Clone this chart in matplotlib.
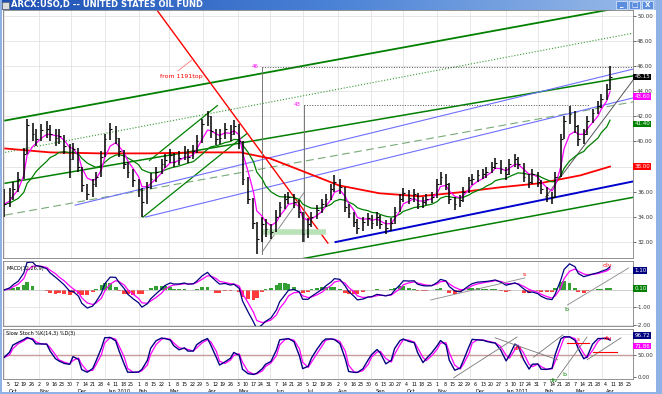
import numpy as np
import pandas as pd
import matplotlib
matplotlib.use("Agg")
import matplotlib.pyplot as plt
import matplotlib.dates as mdates
import matplotlib.transforms as mtrans
from matplotlib.colors import LinearSegmentedColormap
from matplotlib.patches import Rectangle

# USO daily chart (one bar every 3 trading days)
closes = [35.0, 35.6, 36.2, 37.0, 39.0, 41.3, 40.6, 40.2, 40.9, 41.0,
          40.6, 40.3, 40.4, 39.6, 38.6, 39.4, 38.0, 36.5, 35.8, 36.6,
          37.2, 38.8, 40.2, 41.0, 40.3, 39.2, 38.2, 37.6, 36.9, 36.2,
          35.2, 36.4, 37.0, 37.6, 38.2, 38.5, 38.9, 38.4, 38.7, 39.1,
          38.8, 39.2, 40.0, 41.4, 42.0, 40.8, 40.2, 40.3, 41.0, 40.6,
          41.2, 40.0, 37.0, 35.4, 33.5, 32.2, 33.4, 33.0, 32.8, 34.0,
          34.8, 35.4, 35.6, 35.2, 34.4, 32.6, 33.4, 34.0, 34.5, 35.0,
          35.4, 36.2, 36.8, 36.4, 34.8, 34.3, 33.6, 33.1, 33.6, 33.9,
          33.5, 34.0, 33.4, 33.1, 33.5, 34.4, 35.4, 35.9, 35.5, 35.8,
          35.0, 35.2, 35.4, 35.6, 36.6, 37.2, 36.6, 35.4, 35.0, 35.3,
          36.0, 36.9, 37.0, 37.3, 37.4, 37.6, 38.0, 38.3, 37.8, 37.4,
          38.2, 38.6, 38.2, 37.2, 36.8, 37.4, 36.8, 36.2, 35.7, 35.6,
          37.2, 40.2, 41.6, 42.2, 41.2, 40.2, 40.6, 41.6, 42.3, 42.8,
          43.4, 44.2, 45.15]
highs = [36.2, 36.3, 36.8, 37.6, 39.5, 41.8, 41.5, 41.0, 41.4, 41.6,
         41.3, 41.0, 41.0, 40.5, 39.8, 39.9, 39.5, 38.0, 36.6, 37.0,
         37.6, 39.2, 40.6, 41.5, 41.2, 40.3, 39.3, 38.4, 37.8, 37.0,
         36.3, 36.8, 37.5, 38.0, 38.6, 39.0, 39.4, 39.1, 39.2, 39.6,
         39.4, 39.7, 40.5, 41.8, 42.4, 42.0, 41.0, 41.0, 41.5, 41.3,
         41.7, 41.4, 40.0, 37.2, 35.5, 33.6, 34.0, 33.8, 33.4, 34.5,
         35.2, 35.8, 36.0, 35.8, 35.3, 34.4, 33.9, 34.4, 34.9, 35.4,
         35.8, 36.6, 37.3, 37.0, 36.4, 35.0, 34.4, 33.8, 34.0, 34.3,
         34.1, 34.4, 34.1, 33.7, 33.9, 34.8, 35.8, 36.3, 36.1, 36.2,
         35.9, 35.6, 35.8, 36.0, 37.0, 37.6, 37.4, 36.7, 35.6, 35.7,
         36.4, 37.2, 37.4, 37.7, 37.8, 38.0, 38.4, 38.7, 38.5, 38.0,
         38.6, 39.0, 38.8, 38.3, 37.4, 37.8, 37.6, 36.9, 36.4, 36.0,
         37.6, 40.6, 42.0, 42.8, 42.4, 41.3, 41.0, 42.0, 42.6, 43.2,
         43.8, 44.6, 46.0]
lows = [34.0, 34.8, 35.3, 36.0, 37.0, 39.0, 40.0, 39.6, 40.0, 40.3,
        40.0, 39.6, 39.8, 39.0, 37.1, 38.5, 37.6, 36.0, 35.3, 35.6,
        36.4, 37.2, 38.8, 40.1, 39.8, 38.8, 37.8, 37.1, 36.4, 35.6,
        34.0, 35.0, 36.2, 36.8, 37.4, 37.9, 38.3, 38.0, 38.1, 38.5,
        38.3, 38.6, 39.1, 39.9, 41.2, 40.3, 39.7, 39.8, 40.2, 40.0,
        40.5, 39.4, 36.5, 35.0, 33.0, 31.0, 32.0, 32.4, 32.2, 32.8,
        34.0, 34.6, 35.0, 34.7, 33.9, 32.0, 32.3, 33.2, 33.8, 34.3,
        34.8, 35.3, 36.0, 35.8, 34.4, 33.9, 33.2, 32.6, 32.9, 33.3,
        33.0, 33.3, 33.0, 32.6, 32.9, 33.4, 34.4, 35.2, 35.0, 35.2,
        34.6, 34.7, 34.9, 35.1, 35.5, 36.5, 36.1, 35.0, 34.5, 34.8,
        35.2, 35.9, 36.5, 36.8, 37.0, 37.1, 37.5, 37.8, 37.4, 36.9,
        37.3, 38.0, 37.8, 36.8, 36.3, 36.6, 36.4, 35.8, 35.2, 35.0,
        35.5, 37.2, 40.2, 41.4, 40.7, 39.6, 39.8, 40.5, 41.5, 42.2,
        42.7, 43.3, 44.1]

# 200 day moving average (red)
ma200_dates = ["2009-10-02", "2009-11-12", "2009-12-28", "2010-02-11", "2010-03-29",
               "2010-05-05", "2010-06-01", "2010-06-29", "2010-08-03", "2010-09-09",
               "2010-10-16", "2010-11-22", "2010-12-29", "2011-02-03", "2011-03-12",
               "2011-04-08"]
ma200 = [39.44, 39.13, 39.05, 39.05, 39.13, 39.13, 38.65, 37.7, 36.5, 35.87,
         35.63, 35.95, 36.35, 36.67, 37.3, 38.0]

# last values shown in the boxes on the right axis
box_close, box_ema, box_ma50, box_ma200 = 45.15, 43.60, 41.40, 38.00
box_macd, box_hist = 1.10, 0.10
box_k, box_d = 96.72, 71.86

# hand drawn lines on the price panel: (date, price) pairs
upper_green = [("2009-10-02", 41.67), ("2011-04-30", 50.87)]
dotted_green = [("2009-10-02", 39.13), ("2011-04-30", 48.65)]
mid_green = [("2009-10-02", 36.67), ("2011-04-30", 45.24)]
dashed_green = [("2009-10-02", 34.13), ("2011-04-30", 43.17)]
lower_green = [("2010-06-15", 30.40), ("2011-04-30", 35.56)]
small_green_a = [("2010-02-05", 33.97), ("2010-05-11", 40.63)]
small_green_b = [("2010-02-11", 38.49), ("2010-04-14", 42.86)]
blue_1 = [("2009-12-05", 34.92), ("2011-04-30", 45.79)]
blue_2 = [("2010-02-07", 33.97), ("2011-04-30", 43.49)]
blue_thick = [("2010-07-31", 31.98), ("2011-04-30", 36.83)]
red_down = [("2010-02-17", 50.56), ("2010-07-24", 31.9)]
gray_up_1 = [("2010-05-25", 31.2), ("2010-07-02", 35.9)]
gray_up_2 = [("2011-02-08", 35.56), ("2011-04-30", 45.0)]
target_46 = ("2010-05-25", 31.0, 45.95)
target_43 = ("2010-07-02", 32.1, 42.94, "2011-03-21")
support_band = [("2010-05-25", 32.78), ("2010-07-22", 32.78)]

# lines and notes on the MACD panel
macd_gray_1 = [("2010-10-26", -0.57), ("2011-01-20", 0.69)]
macd_gray_2 = [("2011-02-28", -0.86), ("2011-04-25", 1.26)]

# lines and notes on the stochastic panel
sto_gray = [[("2010-11-16", -2), ("2011-01-13", 93)],
            [("2010-12-24", 91), ("2011-02-19", 40)],
            [("2011-01-28", 46), ("2011-02-24", 98)],
            [("2011-02-19", -2), ("2011-03-18", 93)],
            [("2011-03-18", 40), ("2011-04-18", 91)]]
sto_red = [[("2011-02-28", 79), ("2011-03-20", 79)],
           [("2011-03-23", 58), ("2011-04-14", 58)]]

W, H = 662, 394
fig = plt.figure(figsize=(W / 100, H / 100), dpi=100)
fig.patch.set_facecolor("white")


def px_axes(x0, y0, x1, y1):
    return fig.add_axes([x0 / W, 1 - y1 / H, (x1 - x0) / W, (y1 - y0) / H])


def d(s):
    return mdates.date2num(pd.Timestamp(s))


def seg(ax, pts, **kw):
    ax.plot([d(p[0]) for p in pts], [p[1] for p in pts], **kw)


dates = pd.bdate_range("2009-10-01", periods=len(closes), freq="3B")
x = mdates.date2num(dates)
c = pd.Series(closes)
ema10 = c.ewm(span=4, adjust=False).mean()
ma50 = c.ewm(span=14, adjust=False).mean()
macd = c.ewm(span=4, adjust=False).mean() - c.ewm(span=9, adjust=False).mean()
signal = macd.ewm(span=3, adjust=False).mean()
hist = macd - signal
hh = pd.Series(highs).rolling(5, min_periods=1).max()
ll = pd.Series(lows).rolling(5, min_periods=1).min()
k = (100 * (c - ll) / (hh - ll)).rolling(2, min_periods=1).mean()
dline = k.rolling(2, min_periods=1).mean()

xmin, xmax = d("2009-09-30"), d("2011-04-29")
month_starts = mdates.date2num(pd.date_range("2009-10-01", "2011-04-30", freq="BMS"))

axP = px_axes(3, 10, 633, 258)
axM = px_axes(3, 261, 633, 326)
axS = px_axes(3, 329, 633, 379)
for ax in (axP, axM, axS):
    ax.set_xlim(xmin, xmax)
    ax.set_xticks([])
    ax.yaxis.tick_right()
    ax.tick_params(axis="y", labelsize=4, length=2, width=0.5, pad=1, colors="#333333")
    for sp in ax.spines.values():
        sp.set_color("#808080")
        sp.set_linewidth(0.6)
    for m in month_starts:
        ax.axvline(m, color="#dddddd", lw=0.5, zorder=0)


def value_box(ax, y, txt, fc, tc="white"):
    ax.text(1.002, y, txt, transform=ax.get_yaxis_transform(), fontsize=4, color=tc,
            va="center", ha="left", zorder=10, clip_on=False,
            bbox=dict(boxstyle="square,pad=0.15", fc=fc, ec="none"))


# price panel (the 38 label sits under the red box)
axP.set_ylim(30.71, 50.48)
price_ticks = [32, 34, 36, 40, 42, 44, 46, 48, 50]
axP.set_yticks(price_ticks)
axP.set_yticklabels([f"{v:.2f}" for v in price_ticks])
for v in np.arange(32, 51, 2):
    axP.axhline(v, color="#dddddd", lw=0.5, zorder=0)

seg(axP, upper_green, color="#008000", lw=1.3)
seg(axP, dotted_green, color="#339933", lw=0.8, ls=":")
seg(axP, mid_green, color="#008000", lw=1.1)
seg(axP, dashed_green, color="#77aa77", lw=0.8, dashes=(7, 4))
seg(axP, lower_green, color="#008000", lw=1.1)
seg(axP, small_green_a, color="#008000", lw=0.9)
seg(axP, small_green_b, color="#008000", lw=0.9)
seg(axP, blue_1, color="#6f6fff", lw=0.8)
seg(axP, blue_2, color="#6f6fff", lw=0.8)
seg(axP, blue_thick, color="#0000cc", lw=1.4)
seg(axP, red_down, color="#ff0000", lw=1.0)
seg(axP, gray_up_1, color="#888888", lw=0.7)
seg(axP, gray_up_2, color="#555555", lw=0.7)
seg(axP, support_band, color="#b9e2b9", lw=4, solid_capstyle="butt")

t46 = d(target_46[0])
axP.plot([t46, t46], [target_46[1], target_46[2]], color="#777777", lw=0.7)
axP.plot([t46, xmax], [target_46[2]] * 2, color="#555555", lw=0.7, ls=":")
axP.text(t46 - 3, target_46[2], "46", color="#ff00ff", fontsize=4, ha="right", va="center")
t43 = d(target_43[0])
axP.plot([t43, t43], [target_43[1], target_43[2]], color="#777777", lw=0.7)
axP.plot([t43, d(target_43[3])], [target_43[2]] * 2, color="#555555", lw=0.7, ls=":")
axP.text(t43 - 3, target_43[2], "43", color="#ff00ff", fontsize=4, ha="right", va="center")
axP.text(d("2010-02-21"), 45.16, "from 1191top", color="#ff0000", fontsize=4.5,
         ha="left", va="center")
seg(axP, [("2010-03-09", 45.63), ("2010-03-23", 46.59)], color="#ff6666", lw=0.5)

axP.plot(mdates.date2num(pd.to_datetime(ma200_dates)), ma200, color="#ff0000", lw=1.3)
axP.plot(x, ma50, color="#008000", lw=0.9)
axP.plot(x, ema10, color="#ff00ff", lw=0.9)
axP.vlines(x, lows, highs, color="black", lw=1.1)
axP.hlines(closes, x, x + 1.6, color="black", lw=0.8)

value_box(axP, box_close, f"{box_close:.2f}", "black")
value_box(axP, box_ema, f"{box_ema:.2f}", "#ff00ff")
value_box(axP, box_ma50, f"{box_ma50:.2f}", "#008000")
value_box(axP, box_ma200, f"{box_ma200:.2f}", "#ff0000")

# MACD panel (0 and 1 labels are covered by the value boxes)
axM.set_ylim(-2.06, 1.66)
axM.set_yticks([-2, -1])
axM.set_yticklabels(["-2.00", "-1.00"])
for v in (-2, -1, 1):
    axM.axhline(v, color="#dddddd", lw=0.5, zorder=0)
axM.bar(x, hist.clip(lower=0), width=3.5, color="#33a033", lw=0)
axM.bar(x, hist.clip(upper=0), width=3.5, color="#ff3b3b", lw=0)
axM.axhline(0, color="#aaaaaa", lw=0.4)
axM.plot(x, signal, color="#ff00ff", lw=0.9)
axM.plot(x, macd, color="#000080", lw=0.9)
seg(axM, macd_gray_1, color="#888888", lw=0.6)
seg(axM, macd_gray_2, color="#888888", lw=0.6)
axM.text(d("2011-01-20"), 0.72, "s", color="#ff0000", fontsize=4.5, ha="center", va="bottom")
axM.text(d("2011-02-27"), -0.95, "b", color="#008000", fontsize=4.5, ha="center", va="top")
axM.text(d("2011-04-06"), 1.25, "div", color="#ff0000", fontsize=4.5, ha="center", va="bottom")
axM.text(0.005, 0.93, "MACD(12,26,9)", transform=axM.transAxes, fontsize=3.6,
         ha="left", va="top")
value_box(axM, box_macd, f"{box_macd:.2f}", "#000080")
value_box(axM, box_hist, f"{box_hist:.2f}", "#008000")

# stochastic panel
axS.set_ylim(-4.7, 111.6)
axS.set_yticks([0, 50])
axS.set_yticklabels(["0.00", "50.00"])
axS.axhline(50, color="#c89a9a", lw=1.0, zorder=1)
axS.axhline(100, color="#dddddd", lw=0.5, zorder=0)
axS.plot(x, dline, color="#ff00ff", lw=0.9)
axS.plot(x, k, color="#000080", lw=1.0)
for pts in sto_gray:
    seg(axS, pts, color="#777777", lw=0.6)
for pts in sto_red:
    seg(axS, pts, color="#ff0000", lw=0.8)
axS.text(d("2011-01-14"), 62, "div", color="#ff0000", fontsize=4, ha="center")
axS.text(d("2011-01-17"), 45, "s", color="#ff0000", fontsize=4, ha="center")
axS.text(d("2011-03-10"), 84, "s", color="#ff0000", fontsize=4, ha="center")
axS.text(d("2011-04-06"), 86, "div", color="#ff0000", fontsize=4, ha="center")
axS.text(d("2011-02-16"), -3, "div", color="#008000", fontsize=4, ha="center", va="top")
axS.text(d("2011-02-25"), 2, "b", color="#008000", fontsize=4.5, ha="center")
axS.text(0.005, 0.95, "Slow Stoch %K(14,3) %D(3)", transform=axS.transAxes, fontsize=3.6,
         ha="left", va="top")
value_box(axS, box_k, f"{box_k:.2f}", "#000080")
value_box(axS, box_d, f"{box_d:.2f}", "#ff00ff")

# date labels under the bottom panel
blend = mtrans.blended_transform_factory(axS.transData, axS.transAxes)
for day in pd.date_range("2009-10-05", "2011-04-25", freq="W-MON"):
    xd = mdates.date2num(day)
    axS.text(xd, -0.06, str(day.day), transform=blend, fontsize=3.4, ha="center",
             va="top", clip_on=False)
    if day.day <= 7:
        lab = day.strftime("%b") + (f" {day.year}" if day.month == 1 else "")
        axS.text(xd, -0.2, lab, transform=blend, fontsize=3.6, ha="left",
                 va="top", clip_on=False)

# window title bar and borders
tb = fig.add_axes([0, 1 - 10 / H, 1, 10 / H])
grad = np.linspace(0, 1, 256).reshape(1, -1)
tb.imshow(grad, aspect="auto", extent=[0, 1, 0, 1],
          cmap=LinearSegmentedColormap.from_list("tb", ["#1e50b4", "#4a82d6", "#9dbde9"]))
tb.set_xlim(0, 1)
tb.set_ylim(0, 1)
tb.axis("off")
tb.add_patch(Rectangle((2 / W, 0.15), 7 / W, 0.7, fc="#dcdcdc", ec="#555555", lw=0.4))
tb.text(11 / W, 0.5, "ARCX:USO,D -- UNITED STATES OIL FUND", color="white",
        fontsize=6, fontweight="bold", va="center", ha="left")
for i, sym in enumerate(["_", "\u25a1", "X"]):
    bx = (616 + i * 13) / W
    tb.add_patch(Rectangle((bx, 0.08), 11 / W, 0.84, fc="#5c8ee0", ec="white", lw=0.4))
    tb.text(bx + 5.5 / W, 0.5, sym, color="white", fontsize=5, ha="center", va="center",
            fontweight="bold")

fig.patches.append(Rectangle((656 / W, 0), 6 / W, 1, transform=fig.transFigure,
                             fc="#8fb1e6", ec="none", zorder=0))
fig.patches.append(Rectangle((0, 0), 1, 2 / H, transform=fig.transFigure,
                             fc="#8fb1e6", ec="none", zorder=0))
fig.patches.append(Rectangle((0, 0), 2 / W, 1, transform=fig.transFigure,
                             fc="#8fb1e6", ec="none", zorder=0))

fig.savefig("out.png", dpi=100)
